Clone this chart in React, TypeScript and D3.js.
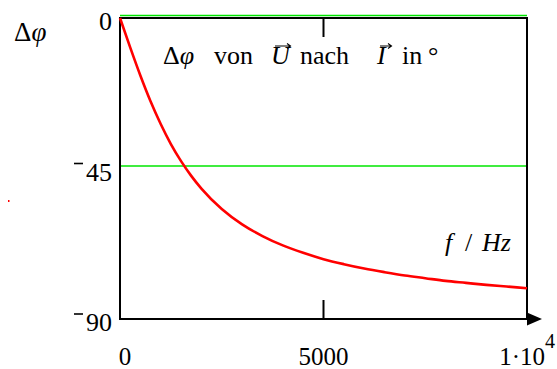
import * as d3 from "d3";

// frequency in Hz and phase shift in degrees
const freq = [0, 250, 500, 750, 1000, 1250, 1500, 1750, 2000, 2500, 3000, 3500, 4000, 4500, 5000, 5500, 6000, 6500, 7000, 7500, 8000, 8500, 9000, 9500, 10000];
const phase = [0, -8.8, -17.2, -24.9, -31.7, -37.7, -42.8, -47.2, -51.0, -57.1, -61.7, -65.2, -68.0, -70.2, -72.1, -73.6, -74.9, -76.0, -77.0, -77.8, -78.6, -79.2, -79.8, -80.3, -80.8];
const markerLevels = [0, -45];
const yTicks = [0, -45, -90];
const xTicks = [0, 5000, 10000];

const W = 557;
const H = 369;
const FONT = '"Liberation Serif", "Times New Roman", "DejaVu Serif", serif';

export default function App() {
  const x = d3.scaleLinear().domain([0, 10000]).range([120, 527]);
  const y = d3.scaleLinear().domain([-90, 0]).range([319, 18]);

  const pts = freq.map((f, i) => [f, phase[i]] as [number, number]);
  const line = d3
    .line<[number, number]>()
    .x((d) => x(d[0]))
    .y((d) => y(d[1]))
    .curve(d3.curveMonotoneX);

  const x0 = x(0), x1 = x(10000), yTop = y(0), yBot = y(-90);
  const tickLen = 19;

  return (
    <svg
      width={W}
      height={H}
      style={{ position: "absolute", left: 0, top: 0, background: "#fff", fontFamily: FONT }}
    >
      {/* marker lines */}
      {markerLevels.map((v) => (
        <line key={v} x1={x0} x2={x1} y1={y(v) - 2.5} y2={y(v) - 2.5} stroke="#00e600" strokeWidth={1.3} />
      ))}

      {/* frame */}
      <rect x={x0} y={yTop} width={x1 - x0} height={yBot - yTop} fill="none" stroke="#000" strokeWidth={2} />

      {/* x ticks, inward at top and bottom */}
      {xTicks.map((t) => (
        <g key={t}>
          <line x1={x(t)} x2={x(t)} y1={yTop} y2={yTop + tickLen} stroke="#000" strokeWidth={2} />
          <line x1={x(t)} x2={x(t)} y1={yBot} y2={yBot - tickLen} stroke="#000" strokeWidth={2} />
        </g>
      ))}

      {/* axis arrow */}
      <path d={`M${x1},${yBot - 6.5} L${x1 + 15},${yBot} L${x1},${yBot + 6.5} Z`} fill="#000" />

      {/* curve */}
      <path d={line(pts) || ""} fill="none" stroke="#ff0000" strokeWidth={2.6} />

      {/* y tick labels */}
      {yTicks.map((t) => (
        <g key={t}>
          <text x={112} y={y(t) + 12} fontSize={26} textAnchor="end">
            {Math.abs(t)}
          </text>
          {t < 0 && (
            <line x1={74} x2={83} y1={y(t) - 5} y2={y(t) - 5} stroke="#000" strokeWidth={1.6} />
          )}
        </g>
      ))}

      {/* x tick labels */}
      <text x={x(0) + 5} y={365} fontSize={25} textAnchor="middle">0</text>
      <text x={x(5000)} y={365} fontSize={25} textAnchor="middle">5000</text>
      <text x={545} y={365} fontSize={25} textAnchor="end">1·10</text>
      <text x={545} y={348} fontSize={20}>4</text>

      {/* y axis name */}
      <text x={14} y={41} fontSize={27}>
        Δ<tspan fontStyle="italic">φ</tspan>
      </text>

      {/* title */}
      <g fontSize={26}>
        <text x={163} y={64}>Δ<tspan fontStyle="italic">φ</tspan></text>
        <text x={214} y={64}>von</text>
        <text x={271} y={64} fontStyle="italic">U</text>
        <text x={300} y={64}>nach</text>
        <text x={377} y={64} fontStyle="italic">I</text>
        <text x={402} y={64}>in</text>
        <text x={428} y={64}>°</text>
      </g>
      {/* vector arrows over U and I */}
      <g stroke="#000" strokeWidth={1.1} fill="none">
        <path d="M275,46 L290,46 M287,43.5 L290.5,46 L287,48.5" />
        <path d="M380,46 L391,46 M388,43.5 L391.5,46 L388,48.5" />
      </g>

      {/* x axis name */}
      <g fontSize={26}>
        <text x={445} y={251} fontStyle="italic">f</text>
        <text x={465} y={251}>/</text>
        <text x={482} y={251} fontStyle="italic">Hz</text>
      </g>

      {/* stray red dot at the left */}
      <rect x={8} y={200} width={1.5} height={2} fill="#ff0000" />
    </svg>
  );
}
